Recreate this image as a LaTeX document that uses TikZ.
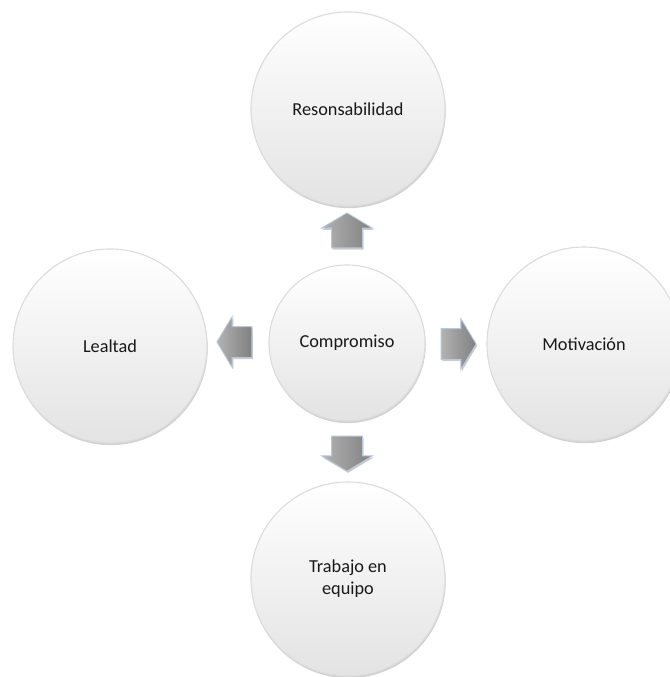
\documentclass[tikz,border=0pt]{standalone}
\usepackage{fontspec}
\setmainfont{Carlito}
\usetikzlibrary{positioning,shapes.arrows,shadows}
\definecolor{InkGray}{RGB}{25,25,25}
\definecolor{RimGray}{RGB}{220,220,220}
\definecolor{ArrowEdge}{RGB}{185,200,220}
\tikzset{
	bubble/.style={circle,minimum size=4.85cm,inner sep=0pt,align=center,
		draw=RimGray,line width=0.8pt,top color=white,bottom color=black!11,
		drop shadow={shadow xshift=0.5pt,shadow yshift=-1.5pt,opacity=0.18,fill=black},
		text=InkGray,font=\fontsize{13}{15.5}\selectfont},
	hub/.style={bubble,minimum size=3.9cm},
	pointer/.style={single arrow,single arrow head extend=0.25cm,single arrow tip angle=118,
		minimum height=0.875cm,inner xsep=0pt,inner ysep=0.375cm,
		left color=black!30,right color=black!50,draw=ArrowEdge,line width=0.6pt,
		drop shadow={shadow xshift=0.8pt,shadow yshift=-1.2pt,opacity=0.2,fill=black}},
}
\begin{document}
\begin{tikzpicture}[x=0.025cm,y=-0.025cm]
	\useasboundingbox (0,0) rectangle (670,677);
	\node[hub] (comp) at (347,343) {Compromiso};
	\foreach \n/\xx/\yy/\t in {resp/348/109/Resonsabilidad,leal/110/346/Lealtad,
		motiv/584/344/Motivación,equipo/348/579/{Trabajo en\\equipo}}
	\node[bubble] (\n) at (\xx,\yy) {\t};
	\node[pointer,rotate=90] (arrUp) at (347,235) {};
	\node[pointer,rotate=-90] (arrDown) at (347,449) {};
	\node[pointer,rotate=180] (arrLeft) at (239,342) {};
	\node[pointer] (arrRight) at (454,344) {};
\end{tikzpicture}
\end{document}
